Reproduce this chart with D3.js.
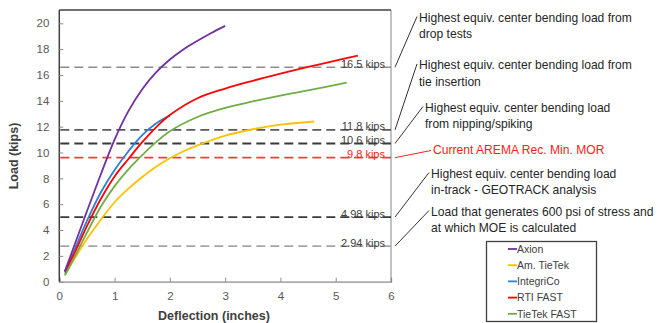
<!DOCTYPE html>
<html>
<head>
<meta charset="utf-8">
<script src="https://cdn.jsdelivr.net/npm/d3@7/dist/d3.min.js"></script>
<style>
  html, body { margin: 0; padding: 0; background: #fff; }
  svg { display: block; font-family: "Liberation Sans", Arial, sans-serif; }
</style>
</head>
<body>
<svg id="chart" width="659" height="323"></svg>
<script>
// ---------- DATA ----------
const seriesNames = ["Axion", "Am. TieTek", "IntegriCo", "RTI FAST", "TieTek FAST"];

const axionDefl = [0.1, 0.25, 0.5, 0.75, 1.0, 1.25, 1.5, 1.75, 2.0, 2.25, 2.5, 2.75, 3.0];
const axionLoad = [0.8, 2.55, 5.45, 8.3, 11.0, 13.2, 14.9, 16.2, 17.2, 18.0, 18.65, 19.25, 19.8];

const amTieTekDefl = [0.1, 0.25, 0.5, 0.75, 1.0, 1.25, 1.5, 1.75, 2.0, 2.25, 2.5, 2.75, 3.0, 3.5, 4.0, 4.61];
const amTieTekLoad = [0.5, 1.6, 3.3, 4.8, 6.15, 7.2, 8.1, 8.9, 9.55, 10.1, 10.55, 10.95, 11.3, 11.8, 12.15, 12.4];

const integriCoDefl = [0.1, 0.25, 0.5, 0.75, 1.0, 1.25, 1.5, 1.75, 2.0];
const integriCoLoad = [0.7, 2.2, 4.7, 6.9, 8.65, 10.1, 11.35, 12.25, 12.85];

const rtiDefl = [0.1, 0.25, 0.5, 0.75, 1.0, 1.25, 1.5, 1.75, 2.0, 2.5, 3.0, 3.5, 4.0, 4.5, 5.0, 5.4];
const rtiLoad = [0.8, 2.0, 4.3, 6.4, 8.15, 9.5, 10.8, 11.95, 12.9, 14.2, 14.95, 15.55, 16.1, 16.62, 17.12, 17.5];

const tieTekFastDefl = [0.1, 0.25, 0.5, 0.75, 1.0, 1.25, 1.5, 1.75, 2.0, 2.5, 3.0, 3.5, 4.0, 4.5, 5.2];
const tieTekFastLoad = [0.5, 1.7, 3.8, 5.8, 7.4, 8.7, 9.8, 10.8, 11.65, 12.75, 13.45, 13.95, 14.4, 14.8, 15.4];

// reference (threshold) lines
const refValues = [16.6, 11.75, 10.7, 9.6, 5.0, 2.75];
const refLabels = ["16.5 kips", "11.8 kips", "10.6 kips", "9.8 kips", "4.98 kips", "2.94 kips"];
const refNotes = [
  ["Highest equiv. center bending load from", "drop tests"],
  ["Highest equiv. center bending load from", "tie insertion"],
  ["Highest equiv. center bending load", "from nipping/spiking"],
  ["Current AREMA Rec. Min. MOR"],
  ["Highest equiv. center bending load", "in-track  - GEOTRACK analysis"],
  ["Load that generates 600 psi of stress and", "at which MOE is calculated"]
];

const xTicks = [0, 1, 2, 3, 4, 5, 6];
const yTicks = [0, 2, 4, 6, 8, 10, 12, 14, 16, 18, 20];
const xTitle = "Deflection (inches)";
const yTitle = "Load (kips)";

// ---------- STYLE / LAYOUT ----------
const seriesColors = ["#7030a0", "#ffc000", "#2f7fd0", "#ff0000", "#70ad47"];
const refColors = ["#8c8c8c", "#5a5a5a", "#3a3a3a", "#ff3b3b", "#3a3a3a", "#a6a6a6"];
const refTextColors = ["#404040", "#404040", "#404040", "#ff2020", "#404040", "#404040"];
const noteColors = ["#262626", "#262626", "#262626", "#ff2020", "#262626", "#262626"];
const refWidths = [1.6, 1.8, 2, 1.6, 1.8, 1.8];
// annotation anchor (text start x, first-line middle y) — layout
const notePos = [[419, 17.5], [419, 65], [425, 107.5], [433, 150], [431, 173.5], [431, 211.5]];

const svg = d3.select("#chart");
const pLeft = 59.3, pRight = 391, pTop = 10, pBottom = 281.7;

const x = d3.scaleLinear().domain([0, 6]).range([pLeft, pRight]);
const y = d3.scaleLinear().domain([0, 20]).range([pBottom, 23.3]);

// frame
svg.append("line").attr("x1", pRight).attr("x2", pRight).attr("y1", pTop).attr("y2", pBottom)
  .attr("stroke", "#9a9a9a").attr("stroke-width", 1.2);
svg.append("line").attr("x1", pLeft).attr("x2", pRight).attr("y1", pTop).attr("y2", pTop)
  .attr("stroke", "#404040").attr("stroke-width", 1.5);

// axes
const xAxis = d3.axisBottom(x).tickValues(xTicks).tickSize(-4).tickPadding(10).tickFormat(d3.format("d"));
const yAxis = d3.axisLeft(y).tickValues(yTicks).tickSize(-4).tickPadding(10).tickFormat(d3.format("d"));

const gx = svg.append("g").attr("transform", `translate(0,${pBottom})`).call(xAxis);
gx.select(".domain").attr("stroke", "#8a8a8a").attr("stroke-width", 1.3);
gx.selectAll(".tick line").attr("stroke", "#8a8a8a");
gx.selectAll(".tick text").attr("fill", "#595959").attr("font-size", 11.5).attr("font-family", "Liberation Sans, Arial, sans-serif");

const gy = svg.append("g").attr("transform", `translate(${pLeft},0)`).call(yAxis);
gy.select(".domain").attr("stroke", "#404040").attr("stroke-width", 1.5)
  .attr("d", `M0,${pTop}V${pBottom}`);
gy.selectAll(".tick line").attr("stroke", "#8a8a8a");
gy.selectAll(".tick text").attr("fill", "#595959").attr("font-size", 11.5).attr("font-family", "Liberation Sans, Arial, sans-serif");

// titles
svg.append("text").attr("x", 214).attr("y", 320).attr("text-anchor", "middle")
  .attr("font-weight", "bold").attr("font-size", 12.5).attr("fill", "#404040").text(xTitle);
svg.append("text").attr("transform", "translate(18,156) rotate(-90)").attr("text-anchor", "middle")
  .attr("font-weight", "bold").attr("font-size", 12.5).attr("fill", "#404040").text(yTitle);

// reference lines
refValues.forEach((v, i) => {
  svg.append("line").attr("x1", pLeft + 1).attr("x2", pRight).attr("y1", y(v)).attr("y2", y(v))
    .attr("stroke", refColors[i]).attr("stroke-width", refWidths[i]).attr("stroke-dasharray", "9,5");
  svg.append("text").attr("x", 385).attr("y", y(v) + 0.5).attr("text-anchor", "end")
    .attr("font-size", 11).attr("fill", refTextColors[i]).text(refLabels[i]);
  const [nx, ny] = notePos[i];
  svg.append("line").attr("x1", 395).attr("y1", y(v)).attr("x2", nx - 2).attr("y2", ny - (refNotes[i].length > 1 ? 1 : -0.5))
    .attr("stroke", i === 3 ? "#ff2020" : "#333").attr("stroke-width", 1);
  const t = svg.append("text").attr("font-size", 12.1).attr("fill", noteColors[i]);
  refNotes[i].forEach((line, j) => {
    t.append("tspan").attr("x", nx).attr("y", ny + 4 + j * 16.5).text(line);
  });
});

// series
const seriesDefl = [axionDefl, amTieTekDefl, integriCoDefl, rtiDefl, tieTekFastDefl];
const seriesLoad = [axionLoad, amTieTekLoad, integriCoLoad, rtiLoad, tieTekFastLoad];
const lineGen = d3.line().x(d => x(d[0])).y(d => y(d[1])).curve(d3.curveCatmullRom.alpha(0.5));
// draw order: Am. TieTek, TieTek FAST, IntegriCo, RTI FAST, Axion
[1, 4, 2, 3, 0].forEach(i => {
  const pts = seriesDefl[i].map((d, k) => [d, seriesLoad[i][k]]);
  svg.append("path").attr("d", lineGen(pts)).attr("fill", "none")
    .attr("stroke", seriesColors[i]).attr("stroke-width", 1.8);
});

// legend
const lg = svg.append("g");
lg.append("rect").attr("x", 486.5).attr("y", 241.5).attr("width", 110).attr("height", 80)
  .attr("fill", "#fff").attr("stroke", "#404040").attr("stroke-width", 1.3);
seriesNames.forEach((name, i) => {
  const cy = 249 + i * 16.2;
  lg.append("line").attr("x1", 508).attr("x2", 517).attr("y1", cy).attr("y2", cy)
    .attr("stroke", seriesColors[i]).attr("stroke-width", 1.8);
  lg.append("text").attr("x", 517).attr("y", cy + 3.8).attr("font-size", 10.5)
    .attr("fill", "#404040").text(name);
});
</script>
</body>
</html>
